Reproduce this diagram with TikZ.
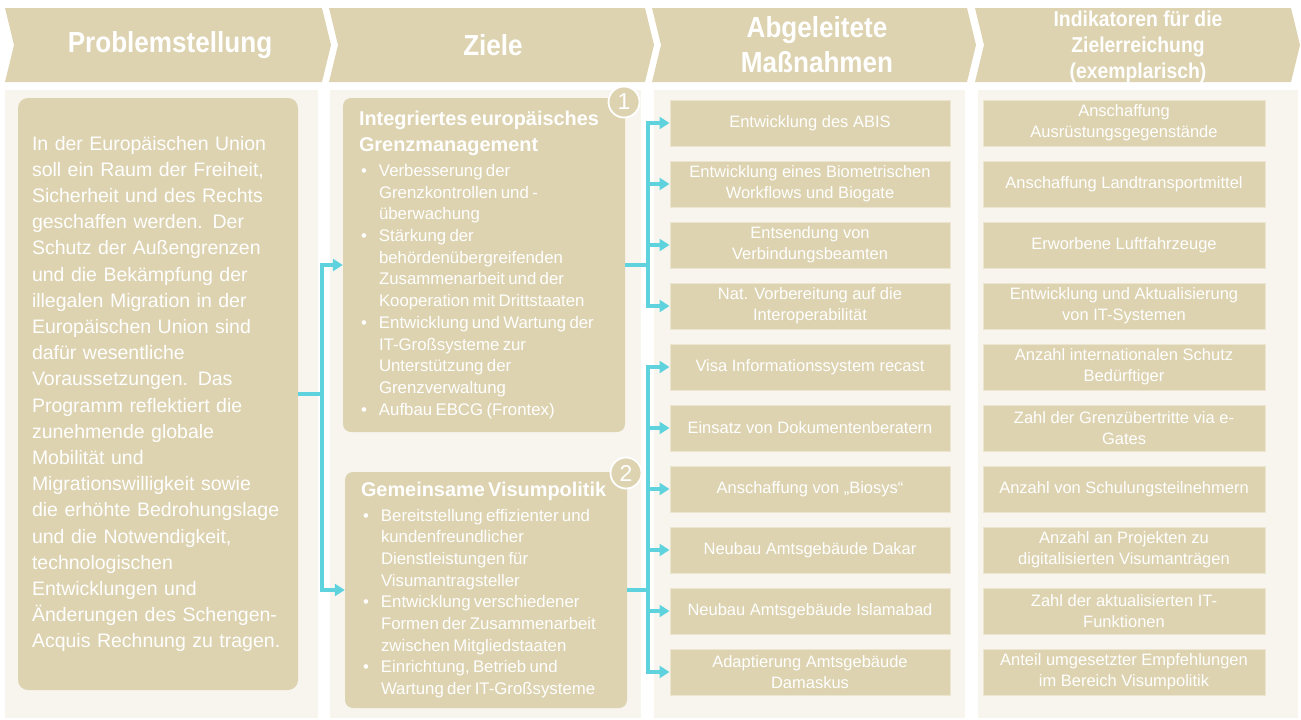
\documentclass[tikz,border=0pt]{standalone}
\usepackage{fontspec}
\setmainfont{Liberation Sans}
\newfontfamily\headfont[FakeStretch=0.9]{Liberation Sans}
\usetikzlibrary{arrows.meta,positioning}

\definecolor{boxtan}{RGB}{221,211,176}
\definecolor{panelbg}{RGB}{248,245,239}
\definecolor{boxedge}{RGB}{236,230,208}
\definecolor{linkcyan}{RGB}{94,211,221}

\newcommand{\bul}{\makebox[20pt][l]{\hspace{2pt}\textbullet}}
\newcommand{\bulpad}{\hspace*{20pt}}
\newcommand{\zieltitle}{\bfseries\fontsize{19.9}{26}\selectfont}
\newcommand{\zielbody}{\fontsize{16.8}{21.7}\selectfont}

\begin{document}
\begin{tikzpicture}[x=1pt, y=-1pt,
  headtxt/.style={text=white, align=center, font=\headfont\bfseries\fontsize{29}{35}\selectfont},
  headsmall/.style={headtxt, font=\headfont\bfseries\fontsize{21.5}{26}\selectfont},
  problem/.style={fill=boxtan, rounded corners=10pt, text=white, align=left,
    text width=252pt, inner xsep=14pt, minimum height=592pt, font=\fontsize{19.5}{26.2}\selectfont},
  zielbox/.style={fill=boxtan, rounded corners=8pt, text=white, align=left,
    text width=250pt, inner xsep=16pt},
  mbox/.style={fill=boxtan, draw=boxedge, line width=1pt, text=white, align=center,
    minimum width=280pt, minimum height=46pt, inner sep=2pt, font=\fontsize{16.5}{21}\selectfont},
  numcirc/.style={circle, fill=boxtan, draw=white, line width=1.8pt, minimum size=31pt,
    inner sep=0pt, text=white, font=\fontsize{23}{23}\selectfont},
  link/.style={draw=linkcyan, line width=3.6pt, -{Triangle[length=10pt,width=12pt]}}]
\useasboundingbox (0,0) rectangle (1301,720);
% column panels
\foreach \l/\r in {5/318, 330/641, 654/965, 978/1298}
  \fill[panelbg] (\l,90) rectangle (\r,718);
% header chevrons
\foreach \l/\r in {5/322, 329/645, 652/967, 975/1291}
  \fill[boxtan] (\l,8) -- (\r,8) -- (\r+9,45) -- (\r,82) -- (\l,82) -- (\l+9,45) -- cycle;
\node[headtxt] (h1) at (170,45) {Problemstellung};
\node[headtxt] (h2) at (493,45) {Ziele};
\node[headtxt] (h3) at (817,45) {Abgeleitete\\Maßnahmen};
\node[headsmall] (h4) at (1138,47) {Indikatoren für die\\Zielerreichung\\(exemplarisch)};

% problem statement
\node[problem] (prob) at (158,394) {In der Europäischen Union\\soll ein Raum der Freiheit,\\Sicherheit und des Rechts\\geschaffen werden. Der\\Schutz der Außengrenzen\\und die Bekämpfung der\\illegalen Migration in der\\Europäischen Union sind\\dafür wesentliche\\Voraussetzungen. Das\\Programm reflektiert die\\zunehmende globale\\Mobilität und\\Migrationswilligkeit sowie\\die erhöhte Bedrohungslage\\und die Notwendigkeit,\\technologischen\\Entwicklungen und\\Änderungen des Schengen-\\Acquis Rechnung zu tragen.};

% goals
\node[zielbox, minimum height=334pt] (ziel1) at (484,265) {{\zieltitle Integriertes europäisches\\Grenzmanagement\par}
  \vspace{3pt}{\zielbody\bul Verbesserung der\\\bulpad Grenzkontrollen und -\\\bulpad überwachung\\\bul Stärkung der\\\bulpad behördenübergreifenden\\\bulpad Zusammenarbeit und der\\\bulpad Kooperation mit Drittstaaten\\\bul Entwicklung und Wartung der\\\bulpad IT-Großsysteme zur\\\bulpad Unterstützung der\\\bulpad Grenzverwaltung\\\bul Aufbau EBCG (Frontex)\par}};
\node[zielbox, minimum height=236pt] (ziel2) at (486,590) {{\zieltitle Gemeinsame Visumpolitik\par}
  \vspace{3pt}{\zielbody\bul Bereitstellung effizienter und\\\bulpad kundenfreundlicher\\\bulpad Dienstleistungen für\\\bulpad Visumantragsteller\\\bul Entwicklung verschiedener\\\bulpad Formen der Zusammenarbeit\\\bulpad zwischen Mitgliedstaaten\\\bul Einrichtung, Betrieb und\\\bulpad Wartung der IT-Großsysteme\par}};
\node[numcirc] (n1) at (624,102) {1};
\node[numcirc] (n2) at (626,473) {2};

% measures
\foreach \i/\txt in {1/{Entwicklung des ABIS},
    2/{Entwicklung eines Biometrischen\\Workflows und Biogate},
    3/{Entsendung von\\Verbindungsbeamten},
    4/{Nat. Vorbereitung auf die\\Interoperabilität},
    5/{Visa Informationssystem recast},
    6/{Einsatz von Dokumentenberatern},
    7/{Anschaffung von „Biosys“},
    8/{Neubau Amtsgebäude Dakar},
    9/{Neubau Amtsgebäude Islamabad},
    10/{Adaptierung Amtsgebäude\\Damaskus}}
  \node[mbox] (m\i) at (810,{123+61*(\i-1)}) {\txt};

% indicators
\foreach \i/\txt in {1/{Anschaffung\\Ausrüstungsgegenstände},
    2/{Anschaffung Landtransportmittel},
    3/{Erworbene Luftfahrzeuge},
    4/{Entwicklung und Aktualisierung\\von IT-Systemen},
    5/{Anzahl internationalen Schutz\\Bedürftiger},
    6/{Zahl der Grenzübertritte via e-\\Gates},
    7/{Anzahl von Schulungsteilnehmern},
    8/{Anzahl an Projekten zu\\digitalisierten Visumanträgen},
    9/{Zahl der aktualisierten IT-\\Funktionen},
    10/{Anteil umgesetzter Empfehlungen\\im Bereich Visumpolitik}}
  \node[mbox, minimum width=282pt] (ind\i) at (1124,{123+61*(\i-1)}) {\txt};

% connectors
\draw[link] (prob.east) -- ++(24,0) |- (ziel1.west);
\draw[link] (prob.east) -- ++(24,0) |- (ziel2.west);
\foreach \i in {1,...,4}
  \draw[link] (ziel1.east) -- ++(23,0) |- (m\i.west);
\foreach \i in {5,...,10}
  \draw[link] (ziel2.east) -- ++(21,0) |- (m\i.west);
\end{tikzpicture}
\end{document}
